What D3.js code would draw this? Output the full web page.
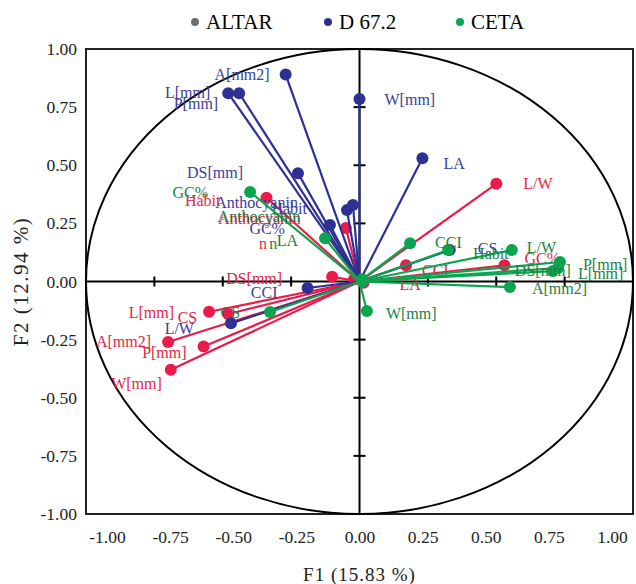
<!DOCTYPE html>
<html>
<head>
<meta charset="utf-8">
<script src="https://cdn.jsdelivr.net/npm/d3@7"></script>
<style>
  body { margin: 0; background: #fff; }
  text { font-family: "Liberation Serif", "Times New Roman", serif; }
</style>
</head>
<body>
<div id="chart"></div>
<script>
// 軸の目盛り
const tickValues = [-1, -0.75, -0.5, -0.25, 0, 0.25, 0.5, 0.75, 1];
const xTitle = "F1 (15.83 %)";
const yTitle = "F2 (12.94 %)";

// ALTAR
const altarNames = ["A[mm2]", "L[mm]", "P[mm]", "W[mm]", "DS[mm]", "L/W", "GC%", "LA", "CCI", "CS", "Habit", "Anthocyanin", "n"];
const altarF1 = [-0.70, -0.55, -0.57, -0.69, -0.10, 0.50, 0.53, 0.015, 0.17, -0.48, -0.34, -0.05, -0.02];
const altarF2 = [-0.26, -0.13, -0.28, -0.38, 0.02, 0.42, 0.07, -0.005, 0.07, -0.14, 0.36, 0.23, 0.01];

// D 67.2
const d672Names = ["A[mm2]", "L[mm]", "P[mm]", "W[mm]", "DS[mm]", "LA", "Anthocyanin", "Habit", "GC%", "CS", "CCI", "L/W"];
const d672F1 = [-0.27, -0.48, -0.44, 0.00, -0.225, 0.23, -0.046, -0.024, -0.108, 0.33, -0.19, -0.47];
const d672F2 = [0.89, 0.81, 0.81, 0.785, 0.466, 0.53, 0.307, 0.329, 0.243, 0.135, -0.028, -0.18];

// CETA
const cetaNames = ["P[mm]", "L[mm]", "DS[mm]", "L/W", "A[mm2]", "CCI", "Habit", "W[mm]", "CS", "GC%", "LA", "Anthocyanin", "n"];
const cetaF1 = [0.733, 0.726, 0.707, 0.557, 0.55, 0.185, 0.324, 0.027, -0.327, -0.40, -0.126, 0.01, 0.01];
const cetaF2 = [0.084, 0.058, 0.045, 0.135, -0.024, 0.165, 0.135, -0.127, -0.131, 0.385, 0.186, 0.01, 0.0];

// ラベルの位置（点からのずれ）
const labelOffsets = {
  "ALTAR": {
    "A[mm2]": [-17, 0, "end"], "L[mm]": [-35, 1, "end"], "P[mm]": [-17, 6, "end"],
    "W[mm]": [-9, 14, "end"], "DS[mm]": [-50, 2, "end"], "L/W": [27, 0, "start"],
    "GC%": [20, -7, "start"], "LA": [36, 2, "start"], "CCI": [16, 5, "start"],
    "CS": [-31, 3, "end"], "Habit": [-46, 3, "end"], "Anthocyanin": [-45, -10, "end"],
    "n": [-87, -36, "end"]
  },
  "D 67.2": {
    "A[mm2]": [-16, 0, "end"], "L[mm]": [-18, -1, "end"], "P[mm]": [-21, 10, "end"],
    "W[mm]": [25, 1, "start"], "DS[mm]": [-55, -1, "end"], "LA": [21, 5, "start"],
    "Anthocyanin": [-49, -8, "end"], "Habit": [-46, 3, "end"], "GC%": [-45, 3, "end"],
    "CS": [28, -2, "start"], "CCI": [-30, 4, "end"], "L/W": [-37, 5, "end"]
  },
  "CETA": {
    "P[mm]": [23, 3, "start"], "L[mm]": [20, 5, "start"], "DS[mm]": [-38, -1, "start"],
    "L/W": [15, -3, "start"], "A[mm2]": [22, 1, "start"], "CCI": [25, -1, "start"],
    "Habit": [25, 3, "start"], "W[mm]": [19, 2, "start"], "CS": [-30, 1, "end"],
    "GC%": [-42, 1, "end"], "LA": [-27, 2, "end"], "Anthocyanin": [-62, -63, "end"],
    "n": [-85, -38, "end"]
  }
};

const series = [
  {name: "ALTAR", names: altarNames, f1: altarF1, f2: altarF2, line: "#ea1b4b", text: "#e41f45", legend: "#6d6e71"},
  {name: "D 67.2", names: d672Names, f1: d672F1, f2: d672F2, line: "#2e3192", text: "#3a3d9a", legend: "#2e3192"},
  {name: "CETA", names: cetaNames, f1: cetaF1, f2: cetaF2, line: "#0ca54f", text: "#1b8145", legend: "#0ca54f"}
];

const width = 636;
const height = 584;
const margin = {top: 49, right: 3, bottom: 70, left: 86};
const innerWidth = width - margin.left - margin.right;
const innerHeight = height - margin.top - margin.bottom;

const svg = d3.select("#chart").append("svg")
  .attr("width", width)
  .attr("height", height);

const g = svg.append("g")
  .attr("transform", "translate(" + margin.left + "," + margin.top + ")");

const x = d3.scaleLinear().domain([-1, 1]).range([0, innerWidth]);
const y = d3.scaleLinear().domain([-1, 1]).range([innerHeight, 0]);
// 下の目盛りラベルは少し内側に寄っている
const xLabel = d3.scaleLinear().domain([-1, 1]).range([21, innerWidth - 21]);

// 枠
g.append("rect")
  .attr("width", innerWidth)
  .attr("height", innerHeight)
  .attr("fill", "none")
  .attr("stroke", "#222")
  .attr("stroke-width", 2);

// 相関円
g.append("ellipse")
  .attr("cx", x(0)).attr("cy", y(0))
  .attr("rx", x(1) - x(0)).attr("ry", y(0) - y(1))
  .attr("fill", "none")
  .attr("stroke", "#000")
  .attr("stroke-width", 2);

// 原点を通る軸
g.append("line")
  .attr("x1", 0).attr("x2", innerWidth)
  .attr("y1", y(0)).attr("y2", y(0))
  .attr("stroke", "#000").attr("stroke-width", 2);
g.append("line")
  .attr("x1", x(0)).attr("x2", x(0))
  .attr("y1", 0).attr("y2", innerHeight)
  .attr("stroke", "#000").attr("stroke-width", 2);

const inner = tickValues.filter(d => d !== 0 && Math.abs(d) < 1);
g.selectAll(".xtick").data(inner).enter().append("line")
  .attr("x1", d => x(d)).attr("x2", d => x(d))
  .attr("y1", y(0) - 5).attr("y2", y(0) + 5)
  .attr("stroke", "#000").attr("stroke-width", 2);
g.selectAll(".ytick").data(inner).enter().append("line")
  .attr("x1", x(0) - 6).attr("x2", x(0) + 6)
  .attr("y1", d => y(d)).attr("y2", d => y(d))
  .attr("stroke", "#000").attr("stroke-width", 2);

// 軸ラベル
const yAxis = g.append("g")
  .call(d3.axisLeft(y).tickValues(tickValues).tickFormat(d => d.toFixed(2)).tickSize(0).tickPadding(9));
yAxis.select(".domain").remove();
yAxis.selectAll("text").attr("font-size", 17.5).attr("fill", "#222")
  .style("font-family", "'Liberation Serif', serif");

const xAxis = g.append("g")
  .attr("transform", "translate(0," + innerHeight + ")")
  .call(d3.axisBottom(xLabel).tickValues(tickValues).tickFormat(d => d.toFixed(2)).tickSize(0).tickPadding(17));
xAxis.select(".domain").remove();
xAxis.selectAll("text").attr("font-size", 17.5).attr("fill", "#222")
  .style("font-family", "'Liberation Serif', serif");

svg.append("text")
  .attr("x", margin.left + x(0))
  .attr("y", 581)
  .attr("text-anchor", "middle")
  .attr("font-size", 19)
  .attr("letter-spacing", 1)
  .attr("fill", "#222")
  .text(xTitle);

svg.append("text")
  .attr("transform", "translate(28," + (margin.top + y(0)) + ") rotate(-90)")
  .attr("text-anchor", "middle")
  .attr("font-size", 21)
  .attr("letter-spacing", 1.5)
  .attr("fill", "#222")
  .text(yTitle);

// ベクトルの描画
series.forEach(function (s) {
  const pts = s.names.map((n, i) => ({name: n, f1: s.f1[i], f2: s.f2[i]}));
  const sg = g.append("g");
  sg.selectAll("line").data(pts).enter().append("line")
    .attr("x1", x(0)).attr("y1", y(0))
    .attr("x2", d => x(d.f1)).attr("y2", d => y(d.f2))
    .attr("stroke", s.line).attr("stroke-width", 2.2);
  sg.selectAll("circle").data(pts).enter().append("circle")
    .attr("cx", d => x(d.f1)).attr("cy", d => y(d.f2))
    .attr("r", 6)
    .attr("fill", s.line);
  sg.selectAll("text").data(pts).enter().append("text")
    .attr("x", d => x(d.f1) + labelOffsets[s.name][d.name][0])
    .attr("y", d => y(d.f2) + labelOffsets[s.name][d.name][1])
    .attr("text-anchor", d => labelOffsets[s.name][d.name][2])
    .attr("dominant-baseline", "central")
    .attr("font-size", 16)
    .attr("fill", s.text)
    .text(d => d.name);
});

// 凡例
const legendX = [195, 328, 460];
const legend = svg.append("g");
series.forEach(function (s, i) {
  legend.append("circle")
    .attr("cx", legendX[i]).attr("cy", 22)
    .attr("r", 4)
    .attr("fill", s.legend);
  legend.append("text")
    .attr("x", legendX[i] + 11).attr("y", 22)
    .attr("dominant-baseline", "central")
    .attr("font-size", 21)
    .attr("fill", "#000")
    .text(s.name);
});
</script>
</body>
</html>
